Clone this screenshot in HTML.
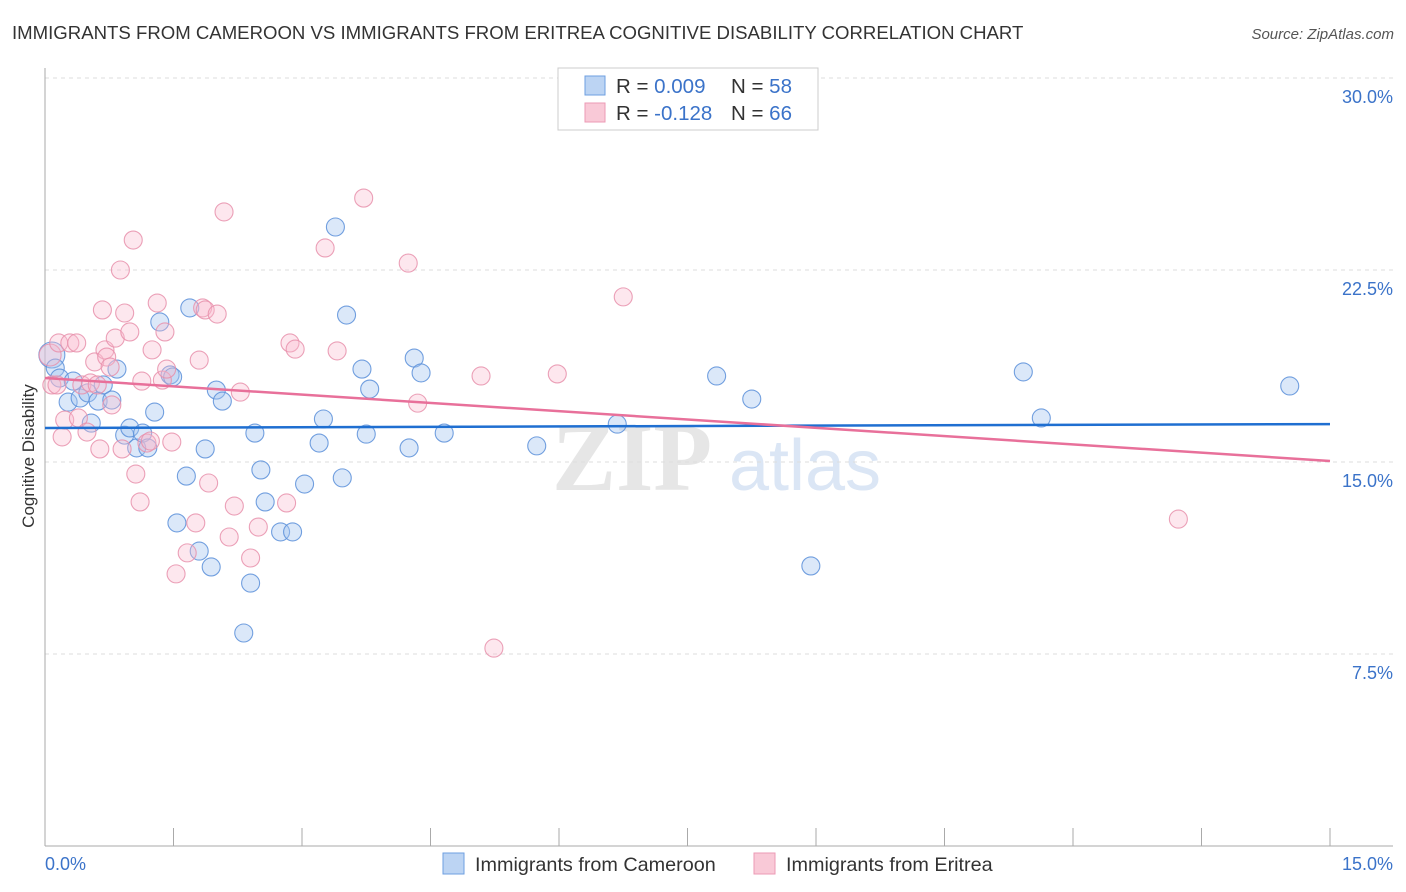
<!DOCTYPE html>
<html><head><meta charset="utf-8">
<style>
body{margin:0;background:#fff;font-family:"Liberation Sans",sans-serif;}
#wrap{position:relative;width:1406px;height:892px;overflow:hidden;}
</style></head>
<body>
<div id="wrap">
<svg id="svg" width="1406" height="892" xmlns="http://www.w3.org/2000/svg">
  <text x="12" y="39" font-size="18.6" fill="#333">IMMIGRANTS FROM CAMEROON VS IMMIGRANTS FROM ERITREA COGNITIVE DISABILITY CORRELATION CHART</text>
  <text x="1394" y="39" font-size="15" fill="#555" font-style="italic" text-anchor="end">Source: ZipAtlas.com</text>
  <text transform="translate(34,456) rotate(-90)" font-size="17" fill="#333" text-anchor="middle">Cognitive Disability</text>
  <text x="632" y="490" font-size="96" fill="#e6e6e6" font-family="Liberation Serif,serif" font-weight="bold" text-anchor="middle">ZIP</text>
  <text x="805" y="490" font-size="72" fill="#dbe6f5" text-anchor="middle">atlas</text>
  <g id="grid"></g>
  <g id="axes"></g>
  <g id="pts"></g>
  <g id="trend"></g>
  <g>
    <rect x="558" y="68" width="260" height="62" fill="#fff" stroke="#ccc"/>
    <rect x="585" y="76" width="20" height="19" fill="#bcd4f3" stroke="#6e9fe0"/>
    <rect x="585" y="103" width="20" height="19" fill="#f9c9d7" stroke="#ec9ab4"/>
    <text x="616" y="93" font-size="20.5" fill="#333">R = <tspan fill="#3b73c9">0.009</tspan></text>
    <text x="731" y="93" font-size="20.5" fill="#333">N = <tspan fill="#3b73c9">58</tspan></text>
    <text x="616" y="120" font-size="20.5" fill="#333">R = <tspan fill="#3b73c9">-0.128</tspan></text>
    <text x="731" y="120" font-size="20.5" fill="#333">N = <tspan fill="#3b73c9">66</tspan></text>
  </g>
  <g>
    <rect x="443" y="853" width="21" height="21" fill="#bcd4f3" stroke="#6e9fe0"/>
    <text x="475" y="871" font-size="19.8" fill="#333">Immigrants from Cameroon</text>
    <rect x="754" y="853" width="21" height="21" fill="#f9c9d7" stroke="#ec9ab4"/>
    <text x="786" y="871" font-size="19.8" fill="#333">Immigrants from Eritrea</text>
  </g>
</svg>
</div>
<script>
const blueX=[0.08,0.12,0.17,0.27,0.33,0.41,0.50,0.54,0.62,0.68,0.78,0.84,0.93,0.99,1.07,1.14,1.20,1.28,1.34,1.46,1.49,1.65,1.54,1.69,1.80,1.87,1.94,2.00,2.07,2.32,2.40,2.45,2.52,2.57,2.75,2.89,3.03,3.20,3.25,3.39,3.47,3.52,3.70,3.75,3.79,4.25,4.31,4.39,4.66,5.74,6.68,7.84,8.25,8.94,11.42,11.63,14.53];
const blueY=[19.18,18.67,18.28,17.34,18.16,17.5,17.70,16.52,17.38,18.01,17.42,18.63,16.05,16.33,15.55,16.13,15.55,16.95,20.47,18.40,18.32,14.45,12.62,21.02,11.52,15.51,10.90,17.81,17.38,8.32,10.27,16.13,14.69,13.44,12.27,12.27,14.14,15.74,16.68,24.18,14.38,20.74,18.63,16.09,17.85,15.55,19.06,18.48,16.13,15.63,16.48,18.36,17.46,10.94,18.52,16.72,17.97];
const pinkX=[0.06,0.08,0.14,0.16,0.20,0.23,0.29,0.37,0.39,0.43,0.49,0.53,0.58,0.61,0.64,0.67,0.70,0.72,0.76,0.78,0.82,0.88,0.90,0.93,0.99,1.03,1.06,1.11,1.13,1.19,1.23,1.25,1.31,1.37,1.40,1.42,1.48,1.53,1.66,1.76,1.80,1.84,1.87,1.91,2.01,2.09,2.15,2.21,2.28,2.40,2.49,2.82,2.86,2.92,3.27,3.41,3.72,4.24,4.35,5.09,5.24,5.98,6.75,13.23];
const pinkY=[19.18,18.01,18.01,19.65,15.98,16.64,19.65,19.65,16.72,18.01,16.17,18.09,18.91,18.01,15.51,20.94,19.38,19.10,18.71,17.23,19.84,22.5,15.51,20.82,20.08,23.67,14.53,13.44,18.16,15.74,15.82,19.38,21.21,18.20,20.08,18.63,15.78,10.63,11.45,12.62,18.98,21.02,20.94,14.18,20.78,24.77,12.07,13.28,17.73,11.25,12.46,13.40,19.65,19.41,23.36,19.34,25.31,22.77,17.30,18.36,7.73,18.44,21.45,12.77];
const yTicks=[7.5,15,22.5,30];
const xTickLabels=["0.0%","15.0%"];
const blueTrend=[16.33,16.48];
const pinkTrend=[18.28,15.04];

const X0=45,X1=1330,Y0=846,YT=78;
const sx=v=>X0+(v/15)*(X1-X0);
const sy=v=>Y0-(v/30)*(Y0-YT);
const NS="http://www.w3.org/2000/svg";
function mk(t,a,p){const e=document.createElementNS(NS,t);for(const k in a)e.setAttribute(k,a[k]);p.appendChild(e);return e;}
const grid=document.getElementById('grid'),axes=document.getElementById('axes'),pts=document.getElementById('pts'),tr=document.getElementById('trend');
yTicks.forEach(v=>{
  const l=mk('line',{x1:X0,x2:1393,y1:sy(v),y2:sy(v),stroke:'#ddd','stroke-dasharray':'4,4'},grid);
  
  
  const t=mk('text',{x:1393,y:sy(v)+25,'font-size':18,fill:'#3b73c9','text-anchor':'end'},grid);
  t.textContent=v.toFixed(1)+'%';
  
  
});
const ya=mk('line',{x1:X0,x2:X0,y1:68,y2:Y0,stroke:'#aaa'},axes);


const xa=mk('line',{x1:X0,x2:1393,y1:Y0,y2:Y0,stroke:'#aaa'},axes);


for(let i=0;i<=10;i++){const x=sx(i*1.5);
  const tk=mk('line',{x1:x,x2:x,y1:Y0,y2:Y0-18,stroke:'#aaa'},axes);
  
  
}
[[X0,'start',0],[1393,'end',1]].forEach(([x,a,i])=>{
  const t=mk('text',{x:x,y:870,'font-size':18,fill:'#3b73c9','text-anchor':a},axes);
  t.textContent=xTickLabels[i];
  
  
});
function drawPts(xs,ys,fill,stroke,name){
  xs.forEach((v,i)=>{
    const r=i===0?(name==='point-cameroon'?13:11):9;
    const c=mk('circle',{cx:sx(v),cy:sy(ys[i]),r:r,fill:fill,stroke:stroke,'stroke-width':1.1,'stroke-opacity':0.85},pts);
    
    
  });
}
drawPts(blueX,blueY,'rgba(165,198,240,0.4)','#5b8fd9','point-cameroon');
drawPts(pinkX,pinkY,'rgba(248,185,205,0.35)','#e891ab','point-eritrea');
const bl=mk('line',{x1:sx(0),x2:sx(15),y1:sy(blueTrend[0]),y2:sy(blueTrend[1]),stroke:'#1f6fd1','stroke-width':2.5},tr);


const pl=mk('line',{x1:sx(0),x2:sx(15),y1:sy(pinkTrend[0]),y2:sy(pinkTrend[1]),stroke:'#e8709a','stroke-width':2.5},tr);


</script>
</body></html>
